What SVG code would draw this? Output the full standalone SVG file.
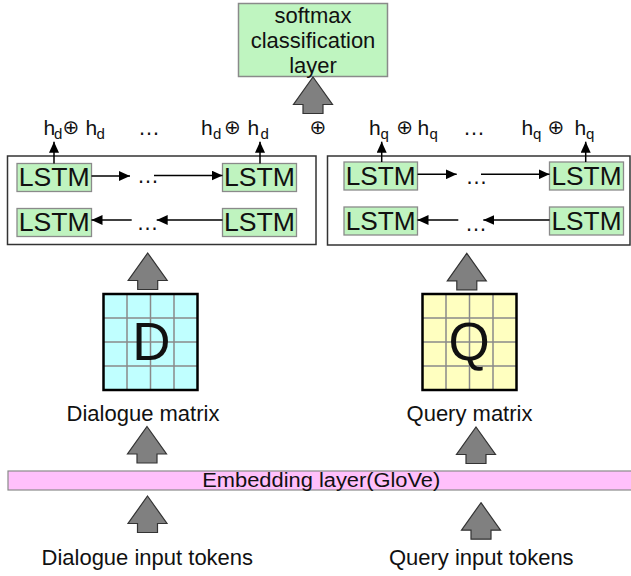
<svg xmlns="http://www.w3.org/2000/svg" xmlns:xlink="http://www.w3.org/1999/xlink" width="631" height="576" viewBox="0 0 631 576">
<style>
text{font-family:"Liberation Sans",Arial,sans-serif;fill:#111}
.lbl{font-size:22px;text-anchor:middle}
.lstm rect{fill:#bff3bf;stroke:#8a8a8a;stroke-width:1.3}
.lstm text{font-size:25px;text-anchor:middle}
.outer{fill:#fff;stroke:#333;stroke-width:1.5}
.big{fill:#808080;stroke:#333;stroke-width:1.2;stroke-linejoin:miter}
.conn{stroke:#000;stroke-width:1.5;fill:none;marker-end:url(#ah)}
.h{font-size:21px}
.sub{font-size:15px}
.op{font-family:"DejaVu Sans",sans-serif;font-size:20px;text-anchor:middle}
.dots{font-size:22px;text-anchor:middle}
.grid{stroke:#8a8a8a;stroke-width:1.5}
.mbox{stroke:#000;stroke-width:2.5}
</style>
<defs>
<marker id="ah" markerUnits="userSpaceOnUse" markerWidth="12" markerHeight="10" refX="11" refY="5" orient="auto">
<path d="M0,0 L11,5 L0,10 Z" fill="#000"/>
</marker>
<path id="bigArrow" d="M0,0 L19.5,27.5 L10,27.5 L10,36.5 L-10,36.5 L-10,27.5 L-19.5,27.5 Z"/>
</defs>
<rect width="631" height="576" fill="#fff"/>

<g id="softmax">
<rect x="238.5" y="3.5" width="149" height="73" fill="#bff5c0" stroke="#8a8a8a" stroke-width="1.5"/>
<text class="lbl" x="313" y="22.5">softmax</text>
<text class="lbl" x="313" y="47.5">classification</text>
<text class="lbl" x="313" y="72.5">layer</text>
</g>

<g id="concat-labels">
<text class="h" y="134.5"><tspan x="43.5">h</tspan><tspan class="sub" x="54" dy="4">d</tspan></text>
<text class="op" x="71" y="134">⊕</text>
<text class="h" y="134.5"><tspan x="85.5">h</tspan><tspan class="sub" x="96.5" dy="4">d</tspan></text>
<text class="dots" x="149" y="134.5">…</text>
<text class="h" y="134.5"><tspan x="201">h</tspan><tspan class="sub" x="213" dy="4">d</tspan></text>
<text class="op" x="232.5" y="134">⊕</text>
<text class="h" y="134.5"><tspan x="247.5">h</tspan><tspan class="sub" x="260.5" dy="4">d</tspan></text>
<text class="op" x="318" y="134">⊕</text>
<text class="h" y="134.5"><tspan x="369">h</tspan><tspan class="sub" x="380.5" dy="4">q</tspan></text>
<text class="op" x="404.7" y="134">⊕</text>
<text class="h" y="134.5"><tspan x="417.5">h</tspan><tspan class="sub" x="429.5" dy="4">q</tspan></text>
<text class="dots" x="474" y="134.5">…</text>
<text class="h" y="134.5"><tspan x="521.5">h</tspan><tspan class="sub" x="533" dy="4">q</tspan></text>
<text class="op" x="555.8" y="134">⊕</text>
<text class="h" y="134.5"><tspan x="574.5">h</tspan><tspan class="sub" x="586" dy="4">q</tspan></text>
</g>

<g id="dialogue-bilstm">
<rect class="outer" x="7.5" y="156" width="308.5" height="88.5"/>
<g class="lstm" id="d-lstm-f1"><rect x="17" y="163.5" width="74.5" height="28"/><text x="54.2" y="186" textLength="71" lengthAdjust="spacingAndGlyphs">LSTM</text></g>
<g class="lstm" id="d-lstm-fn"><rect x="222.5" y="163.5" width="74" height="28"/><text x="259.5" y="186" textLength="71" lengthAdjust="spacingAndGlyphs">LSTM</text></g>
<g class="lstm" id="d-lstm-b1"><rect x="17" y="208.5" width="74.5" height="28"/><text x="54.2" y="231" textLength="71" lengthAdjust="spacingAndGlyphs">LSTM</text></g>
<g class="lstm" id="d-lstm-bn"><rect x="222.5" y="208.5" width="74" height="28"/><text x="259.5" y="231" textLength="71" lengthAdjust="spacingAndGlyphs">LSTM</text></g>
<text class="dots" x="148" y="183">…</text>
<text class="dots" x="147.5" y="230">…</text>
</g>

<g id="query-bilstm">
<rect class="outer" x="327.5" y="156" width="302.5" height="89"/>
<g class="lstm" id="q-lstm-f1"><rect x="344" y="162" width="73.5" height="28"/><text x="380.7" y="184.5" textLength="70" lengthAdjust="spacingAndGlyphs">LSTM</text></g>
<g class="lstm" id="q-lstm-fn"><rect x="549.5" y="162" width="74" height="28"/><text x="586.5" y="184.5" textLength="70" lengthAdjust="spacingAndGlyphs">LSTM</text></g>
<g class="lstm" id="q-lstm-b1"><rect x="344" y="207" width="73.5" height="28"/><text x="380.7" y="229.5" textLength="70" lengthAdjust="spacingAndGlyphs">LSTM</text></g>
<g class="lstm" id="q-lstm-bn"><rect x="549.5" y="207" width="74" height="28"/><text x="586.5" y="229.5" textLength="70" lengthAdjust="spacingAndGlyphs">LSTM</text></g>
<text class="dots" x="476.5" y="184">…</text>
<text class="dots" x="476" y="230.5">…</text>
</g>

<g id="dialogue-matrix">
<rect x="103.5" y="294" width="94" height="96" fill="#c0ffff"/>
<g class="grid">
<line x1="127" y1="294" x2="127" y2="390"/><line x1="150.5" y1="294" x2="150.5" y2="390"/><line x1="174" y1="294" x2="174" y2="390"/>
<line x1="103.5" y1="318" x2="197.5" y2="318"/><line x1="103.5" y1="342" x2="197.5" y2="342"/><line x1="103.5" y1="366" x2="197.5" y2="366"/>
</g>
<rect class="mbox" x="103.5" y="294" width="94" height="96" fill="none"/>
<text x="151.5" y="360" font-size="53" text-anchor="middle">D</text>
<text class="lbl" x="143" y="420.5">Dialogue matrix</text>
</g>

<g id="query-matrix">
<rect x="422.5" y="294" width="94" height="96" fill="#ffffc0"/>
<g class="grid">
<line x1="446" y1="294" x2="446" y2="390"/><line x1="469.5" y1="294" x2="469.5" y2="390"/><line x1="493" y1="294" x2="493" y2="390"/>
<line x1="422.5" y1="318" x2="516.5" y2="318"/><line x1="422.5" y1="342" x2="516.5" y2="342"/><line x1="422.5" y1="366" x2="516.5" y2="366"/>
</g>
<rect class="mbox" x="422.5" y="294" width="94" height="96" fill="none"/>
<text x="469" y="360" font-size="53" text-anchor="middle">Q</text>
<text class="lbl" x="469.5" y="420.5">Query matrix</text>
</g>

<g id="embedding">
<rect x="8" y="471" width="640" height="19" fill="#ffc0fb" stroke="#8a8a8a" stroke-width="1.2"/>
<text x="321.3" y="487" font-size="19.5" text-anchor="middle" textLength="238" lengthAdjust="spacingAndGlyphs">Embedding layer(GloVe)</text>
</g>

<g id="dialogue-input">
<text class="lbl" x="147.3" y="565">Dialogue input tokens</text>
</g>
<g id="query-input">
<text class="lbl" x="481.3" y="565">Query input tokens</text>
</g>

<g id="connectors">
<use xlink:href="#bigArrow" class="big" x="313" y="77"/>
<use xlink:href="#bigArrow" class="big" x="147.7" y="253"/>
<use xlink:href="#bigArrow" class="big" x="466.8" y="253.3"/>
<use xlink:href="#bigArrow" class="big" x="147" y="426.5"/>
<use xlink:href="#bigArrow" class="big" x="476" y="427"/>
<use xlink:href="#bigArrow" class="big" x="147.5" y="496"/>
<use xlink:href="#bigArrow" class="big" x="481" y="502.7"/>
<line class="conn" x1="54" y1="163.5" x2="54" y2="141.7"/>
<line class="conn" x1="260" y1="163.5" x2="260" y2="141.7"/>
<line class="conn" x1="381.7" y1="162" x2="381.7" y2="141.7"/>
<line class="conn" x1="585.7" y1="162" x2="585.7" y2="141.7"/>
<line class="conn" x1="91.5" y1="176" x2="130" y2="176"/>
<line class="conn" x1="154" y1="175.5" x2="222.5" y2="175.5"/>
<line class="conn" x1="131.7" y1="220" x2="91.5" y2="220"/>
<line class="conn" x1="222.5" y1="220" x2="156.7" y2="220"/>
<line class="conn" x1="417.5" y1="174.3" x2="456.7" y2="174.3"/>
<line class="conn" x1="481" y1="174.3" x2="549.5" y2="174.3"/>
<line class="conn" x1="458.3" y1="220" x2="417.5" y2="220"/>
<line class="conn" x1="549.5" y1="220" x2="483.3" y2="220"/>
</g>
</svg>
